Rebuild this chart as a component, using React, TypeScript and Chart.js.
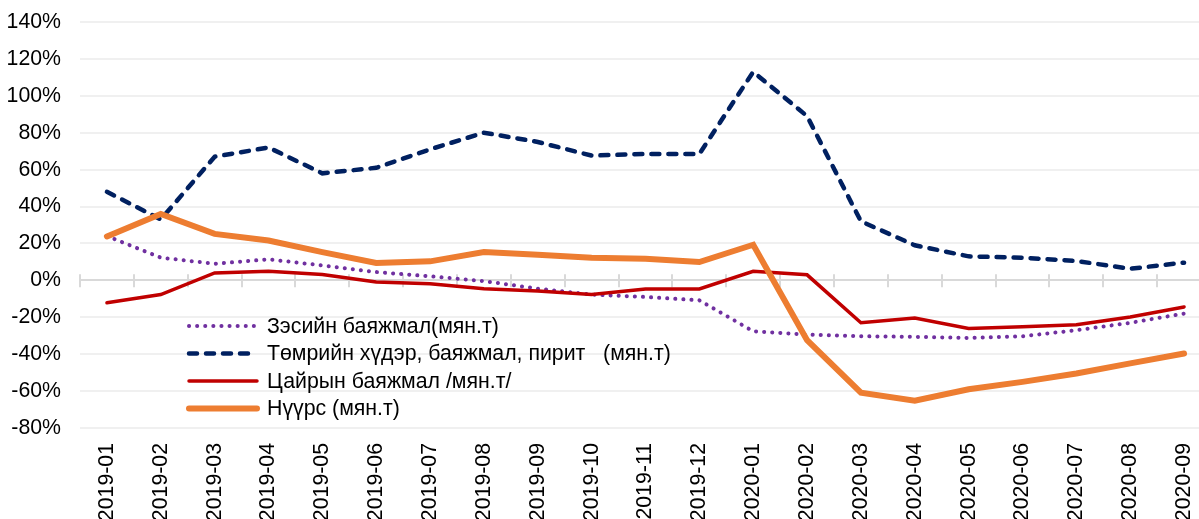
import React, { useEffect, useRef } from "react";
import { Chart, registerables } from "chart.js";

Chart.register(...registerables);

const categories = [
  "2019-01", "2019-02", "2019-03", "2019-04", "2019-05", "2019-06", "2019-07",
  "2019-08", "2019-09", "2019-10", "2019-11", "2019-12", "2020-01", "2020-02",
  "2020-03", "2020-04", "2020-05", "2020-06", "2020-07", "2020-08", "2020-09",
];

const seriesNames = [
  "Зэсийн баяжмал(мян.т)",
  "Төмрийн хүдэр, баяжмал, пирит   (мян.т)",
  "Цайрын баяжмал /мян.т/",
  "Нүүрс (мян.т)",
];

const copper = [24, 12.3, 9, 11.4, 8.1, 4.5, 2.2, -0.4, -4.5, -7.7, -9, -10.8, -27.6, -29.4, -30.3, -30.6, -31.2, -30.3, -27, -23, -18];
const iron = [48, 33, 67, 72, 58, 61, 71, 80, 75, 67.6, 68.5, 68.5, 113, 89, 32, 19, 13, 12.3, 10.5, 6.3, 9.6];
const zinc = [-12.1, -7.7, 4, 4.9, 3.2, -0.9, -1.8, -4.5, -5.8, -7.6, -4.7, -4.7, 4.9, 3, -23, -20.4, -26.1, -25.2, -24, -19.8, -14.4];
const coal = [23.8, 36, 25.2, 21.6, 15.3, 9.4, 10.3, 15.3, 13.9, 12.3, 11.7, 9.9, 19.3, -32.4, -60.9, -65.2, -59, -55, -50.5, -45, -39.6];

const yMin = -80;
const yMax = 140;
const yStep = 20;

const FONT = "'Liberation Sans', Arial, sans-serif";
const FONT_SIZE = 21.3;

const zeroTicksPlugin = {
  id: "zeroTicks",
  beforeDatasetsDraw(chart: any) {
    const x = chart.scales.x;
    const y = chart.scales.y;
    const ctx = chart.ctx;
    const y0 = y.getPixelForValue(0);
    const n = chart.data.labels.length;
    const step = x.getPixelForValue(1) - x.getPixelForValue(0);
    ctx.save();
    ctx.strokeStyle = "#D9D9D9";
    ctx.lineWidth = 2;
    for (let i = 0; i <= n; i++) {
      const px = x.getPixelForValue(0) - step / 2 + i * step;
      if (px > chart.chartArea.right + 1) continue;
      ctx.beginPath();
      ctx.moveTo(Math.round(px), y0 - 6);
      ctx.lineTo(Math.round(px), y0 + 7);
      ctx.stroke();
    }
    ctx.restore();
  },
};

const legendPlugin = {
  id: "insideLegend",
  afterDraw(chart: any) {
    const ctx = chart.ctx;
    const area = chart.chartArea;
    const x0 = area.left + 107;
    const yStart = area.top + 304;
    const rowH = 27.5;
    ctx.save();
    chart.data.datasets.forEach((ds: any, i: number) => {
      const yy = yStart + i * rowH;
      ctx.beginPath();
      ctx.strokeStyle = ds.borderColor;
      ctx.lineWidth = ds.borderWidth;
      ctx.lineCap = ds.borderCapStyle || "butt";
      ctx.setLineDash(ds.borderDash || []);
      ctx.moveTo(x0 + 2, yy);
      ctx.lineTo(x0 + 70, yy);
      ctx.stroke();
      ctx.setLineDash([]);
      ctx.fillStyle = "#000000";
      ctx.font = `${FONT_SIZE}px ${FONT}`;
      ctx.textBaseline = "middle";
      ctx.textAlign = "left";
      ctx.fillText(ds.label, x0 + 80, yy + 1);
    });
    ctx.restore();
  },
};

export default function App() {
  const canvasRef = useRef<HTMLCanvasElement | null>(null);

  useEffect(() => {
    if (!canvasRef.current) return;
    const chart = new Chart(canvasRef.current, {
      type: "line",
      data: {
        labels: categories,
        datasets: [
          {
            label: seriesNames[0],
            data: copper,
            borderColor: "#7030A0",
            borderWidth: 4,
            borderDash: [0.1, 8],
            borderCapStyle: "round",
            pointRadius: 0,
            tension: 0,
            order: 4,
          },
          {
            label: seriesNames[1],
            data: iron,
            borderColor: "#002060",
            borderWidth: 4.5,
            borderDash: [8, 9],
            borderCapStyle: "round",
            pointRadius: 0,
            tension: 0,
            order: 3,
          },
          {
            label: seriesNames[2],
            data: zinc,
            borderColor: "#C00000",
            borderWidth: 3.5,
            borderCapStyle: "round",
            pointRadius: 0,
            tension: 0,
            order: 2,
          },
          {
            label: seriesNames[3],
            data: coal,
            borderColor: "#ED7D31",
            borderWidth: 6,
            borderCapStyle: "round",
            pointRadius: 0,
            tension: 0,
            order: 1,
          },
        ],
      },
      options: {
        animation: false,
        responsive: true,
        maintainAspectRatio: false,
        layout: { padding: { left: 0, top: 14, right: 7, bottom: 0 } },
        plugins: {
          legend: { display: false },
          tooltip: { enabled: false },
        },
        scales: {
          x: {
            type: "category",
            offset: true,
            grid: { display: false, drawTicks: false },
            border: { display: false },
            ticks: {
              autoSkip: false,
              maxRotation: 90,
              minRotation: 90,
              padding: 15,
              color: "#000000",
              font: { family: FONT, size: FONT_SIZE },
            },
            afterFit(scale: any) {
              scale.height = 100;
              scale.paddingLeft = 0;
              scale.paddingRight = 0;
            },
          },
          y: {
            min: yMin,
            max: yMax,
            grid: {
              drawTicks: false,
              color: (c: any) => (c.tick && c.tick.value === 0 ? "#D9D9D9" : "#F0F0F0"),
              lineWidth: 2,
            },
            border: { display: false },
            ticks: {
              stepSize: yStep,
              padding: 19,
              color: "#000000",
              font: { family: FONT, size: FONT_SIZE },
              callback: (v: any) => `${v}%`,
            },
            afterFit(scale: any) {
              scale.width = 72;
              scale.paddingTop = 0;
              scale.paddingBottom = 0;
            },
          },
        },
      },
      plugins: [zeroTicksPlugin, legendPlugin],
    });
    return () => chart.destroy();
  }, []);

  return (
    <div
      style={{
        position: "fixed",
        left: 0,
        top: 0,
        width: 1199,
        height: 519,
        overflow: "hidden",
        background: "#ffffff",
      }}
    >
      <div style={{ position: "absolute", left: 8, top: 8, width: 1210, height: 520 }}>
        <canvas ref={canvasRef} />
      </div>
    </div>
  );
}
